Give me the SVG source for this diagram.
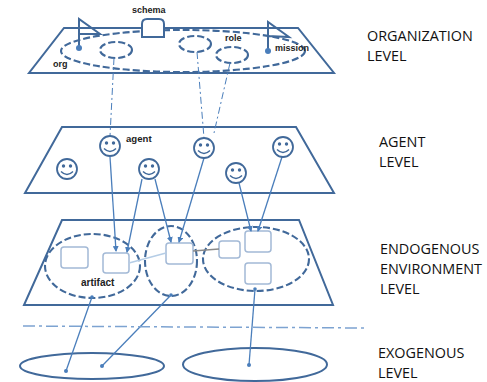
<svg xmlns="http://www.w3.org/2000/svg" width="487" height="382" viewBox="0 0 487 382">
<defs>
<marker id="arr" markerWidth="6" markerHeight="6" refX="5" refY="3" orient="auto" markerUnits="userSpaceOnUse"><path d="M0,0 L6,3 L0,6 Z" fill="#4a7ebb"/></marker>
<g id="face">
<circle r="10" fill="#fff" stroke="#41699a" stroke-width="1.8"/>
<circle cx="-3.5" cy="-3" r="1.7" fill="#41699a"/><circle cx="3.5" cy="-3" r="1.7" fill="#41699a"/>
<path d="M-6,2.5 Q0,8.5 6,2.5" fill="none" stroke="#41699a" stroke-width="1.4"/>
</g>
</defs>
<style>
.plane{fill:#fff;stroke:#41699a;stroke-width:2}
.dash{fill:none;stroke:#41699a;stroke-width:2.1;stroke-dasharray:7 3}
.exo{fill:none;stroke:#41699a;stroke-width:2}
.box{fill:#fff;stroke:#a3b9d6;stroke-width:1.5}
.link{fill:none;stroke:#4a7ebb;stroke-width:1.3}
.dd{fill:none;stroke:#4a7ebb;stroke-width:1;stroke-dasharray:7 3 2 3}
.t{font-family:"Liberation Sans",Arial,sans-serif;font-size:9px;font-weight:bold;fill:#222}
.lv{font-family:"Open Sans","Liberation Sans",sans-serif;font-size:14.4px;fill:#111}
</style>
<rect width="487" height="382" fill="#fff"/>
<g id="org-level">
<polygon class="plane" points="64,28 298,28 334,73 29,73"/>
<ellipse class="dash" cx="183" cy="51" rx="122" ry="21"/>
<ellipse class="dash" cx="116" cy="50" rx="16" ry="8"/>
<ellipse class="dash" cx="195" cy="44" rx="16" ry="8"/>
<ellipse class="dash" cx="232" cy="55" rx="16" ry="8"/>
</g>
<g id="schema"><path class="plane" d="M142,37 V24 Q142,19 147,19 H159 Q164,19 164,24 V37 Z"/><text class="t" x="132" y="13">schema</text></g>
<g id="org-flag"><path d="M79,48 V19 L100,34 H79" fill="none" stroke="#41699a" stroke-width="2"/><circle cx="79" cy="48" r="3" fill="#4a7ebb"/><text class="t" x="53" y="67">org</text></g>
<g id="mission-flag"><path d="M268,51 V22 L289,37 L268,36" fill="none" stroke="#41699a" stroke-width="2"/><circle cx="268" cy="51" r="3" fill="#4a7ebb"/><text class="t" x="275" y="51">mission</text></g>
<text class="t" x="225" y="41" id="role">role</text>
<g id="agent-level">
<polygon class="plane" points="62,127 296,127 334,193 25,193"/>
<text class="t" x="126" y="142" style="font-size:9.6px">agent</text>
</g>
<g id="env-level">
<polygon class="plane" points="62,220 299,220 333,305 24,305"/>
<ellipse class="dash" cx="92.5" cy="266" rx="47.5" ry="32"/>
<ellipse class="dash" cx="171" cy="261" rx="26" ry="35"/>
<ellipse class="dash" cx="256" cy="259" rx="53" ry="32"/>
<rect class="box" x="61" y="247" width="27" height="21" rx="3"/>
<rect class="box" x="103" y="253" width="26" height="20" rx="3"/>
<rect class="box" x="166" y="243" width="27" height="21" rx="3"/>
<rect class="box" x="219" y="241" width="21" height="17" rx="3"/>
<rect class="box" x="245" y="231" width="26" height="21" rx="3"/>
<rect class="box" x="245" y="263" width="26" height="21" rx="3"/>
<text class="t" x="81" y="286" style="font-size:10px">artifact</text>
</g>
<g id="exo-level">
<ellipse class="exo" cx="92" cy="366" rx="72" ry="13"/>
<ellipse class="exo" cx="255" cy="364.5" rx="72" ry="16.5"/>
</g>
<g id="connectors">
<line class="dd" x1="114" y1="58" x2="110" y2="136"/>
<line class="dd" x1="197" y1="52" x2="204" y2="138"/>
<line class="dd" x1="230" y1="63" x2="214" y2="133"/>
<line class="link" x1="110" y1="157" x2="116" y2="251" marker-end="url(#arr)"/>
<line class="link" x1="142" y1="179" x2="127" y2="252" marker-end="url(#arr)"/>
<line class="link" x1="155" y1="179" x2="171" y2="242" marker-end="url(#arr)"/>
<line class="link" x1="204" y1="158" x2="179" y2="242" marker-end="url(#arr)"/>
<line class="link" x1="239" y1="183" x2="251" y2="231" marker-end="url(#arr)"/>
<line class="link" x1="282" y1="157" x2="258" y2="231" marker-end="url(#arr)"/>
<line x1="129" y1="263" x2="166" y2="253" stroke="#b5cde6" stroke-width="1.5"/>
<line x1="193" y1="251" x2="219" y2="249" stroke="#8a8a8a" stroke-width="1.5"/>
<line class="link" x1="92" y1="297" x2="66" y2="371"/>
<line class="link" x1="171" y1="295" x2="102" y2="366"/>
<line class="link" x1="255" y1="289" x2="249" y2="365"/>
<circle cx="92" cy="297" r="1.8" fill="#4a7ebb"/><circle cx="171" cy="295" r="1.8" fill="#4a7ebb"/><circle cx="255" cy="289" r="1.8" fill="#4a7ebb"/>
<circle cx="66" cy="371" r="2" fill="#4a7ebb"/><circle cx="102" cy="366" r="2" fill="#4a7ebb"/><circle cx="249" cy="365" r="2" fill="#4a7ebb"/>
<line x1="23" y1="326" x2="365" y2="328" fill="none" stroke="#7da3d1" stroke-width="1.5" stroke-dasharray="12 4 3 4"/>
</g>
<g id="agents">
<use href="#face" x="110" y="146"/>
<use href="#face" x="67" y="169"/>
<use href="#face" x="149" y="169"/>
<use href="#face" x="204" y="148"/>
<use href="#face" x="236" y="173"/>
<use href="#face" x="283" y="147"/>
</g>
<g id="labels">
<text class="lv" x="367" y="41">ORGANIZATION</text>
<text class="lv" x="367" y="61">LEVEL</text>
<text class="lv" x="379" y="147">AGENT</text>
<text class="lv" x="379" y="167">LEVEL</text>
<text class="lv" x="380" y="254">ENDOGENOUS</text>
<text class="lv" x="380" y="274">ENVIRONMENT</text>
<text class="lv" x="380" y="294">LEVEL</text>
<text class="lv" x="378" y="358">EXOGENOUS</text>
<text class="lv" x="378" y="378">LEVEL</text>
</g>
</svg>
